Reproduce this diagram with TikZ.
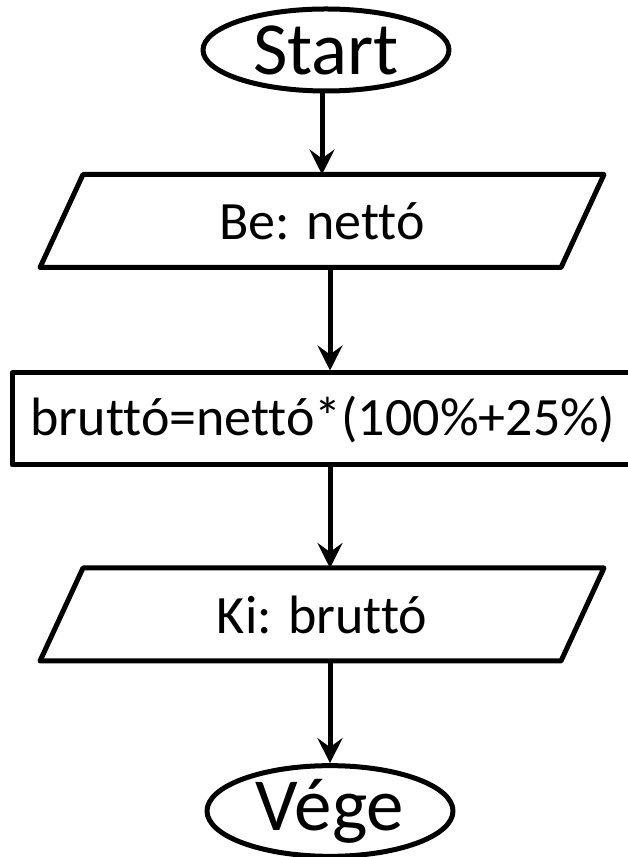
\documentclass[tikz,border=0pt]{standalone}
\usepackage{fontspec}
\setmainfont{Carlito}[Ligatures=NoCommon]
\usetikzlibrary{arrows.meta,shapes.geometric}

\begin{document}
\begin{tikzpicture}[x=1pt,y=1pt,line width=5pt,line join=round,
        term/.style={draw,ellipse,inner sep=0pt,minimum width=246pt,minimum height=82pt,
            font=\fontsize{75}{82}\selectfont},
        io/.style={inner sep=0pt,minimum width=516pt,minimum height=88pt,
            font=\fontsize{54}{60}\selectfont},
        proc/.style={draw,rectangle,inner sep=0pt,minimum width=622pt,minimum height=92pt,
            font=\fontsize{54}{60}\selectfont},
        arr/.style={-{Stealth[length=25pt,width=25pt,inset=9pt]}}]
    \useasboundingbox (0,0) rectangle (627,857);
    % nodes of the flow
    \node[term] (start) at (326,807) {Start};
    \node[io]   (in)    at (322,636) {Be: nettó};
    \node[proc] (calc)  at (323,438) {bruttó=nettó*(100\%+25\%)};
    \node[io]   (out)   at (322,242.5) {Ki: bruttó};
    \node[term] (end)   at (330,46) {Vége};
    % slanted input/output boxes
    \foreach \n in {in,out}
        \draw ([xshift=-21.5pt]\n.south west) -- ([xshift=21.5pt]\n.north west)
            -- ([xshift=21.5pt]\n.north east) -- ([xshift=-21.5pt]\n.south east) -- cycle;
    % arrows between them
    \draw[arr] (start.south -| in) -- (in.north);
    \draw[arr] (in.south -| end) -- (calc.north -| end);
    \draw[arr] (calc.south -| end) -- (out.north -| end);
    \draw[arr] (out.south -| end) -- (end.north);
\end{tikzpicture}
\end{document}
